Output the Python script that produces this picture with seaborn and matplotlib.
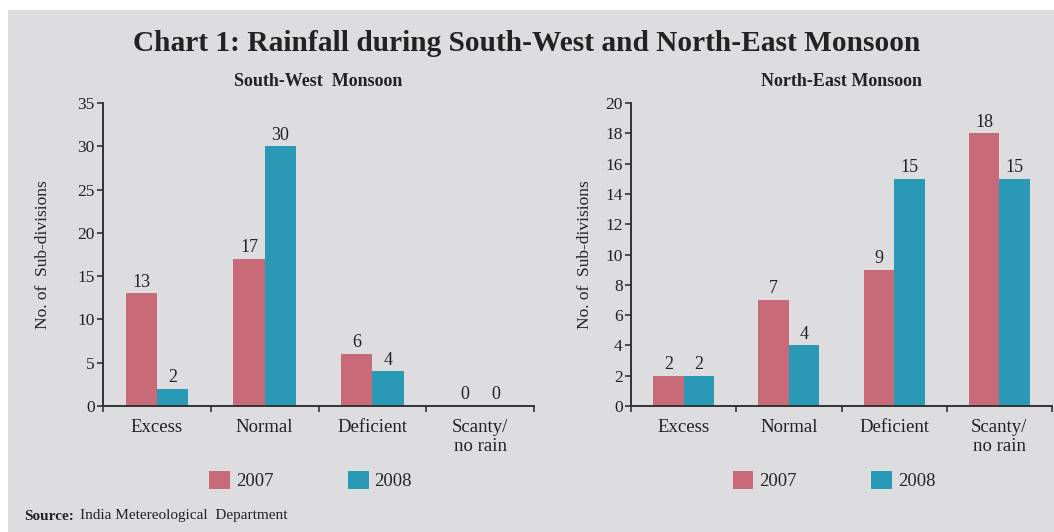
import pandas as pd
import numpy as np
import matplotlib
matplotlib.use("Agg")
import matplotlib.pyplot as plt
import seaborn as sns
from matplotlib.patches import Rectangle, Patch
from matplotlib.ticker import FixedLocator

# Data
categories = ["Excess", "Normal", "Deficient", "Scanty/\nno rain"]
years = ["2007", "2008"]
sw_2007 = [13, 17, 6, 0]
sw_2008 = [2, 30, 4, 0]
ne_2007 = [2, 7, 9, 18]
ne_2008 = [2, 4, 15, 15]

colors = {"2007": "#c96a78", "2008": "#2a99b5"}
bg = "#dddde0"
serif = ["Liberation Serif", "DejaVu Serif"]

sns.set_theme(style="ticks")
plt.rcParams["font.family"] = serif


def make_frame(v07, v08):
    return pd.DataFrame({
        "category": categories * 2,
        "year": ["2007"] * len(categories) + ["2008"] * len(categories),
        "value": v07 + v08,
    })


fig = plt.figure(figsize=(10.54, 5.32), dpi=100, facecolor="white")
fig.patches.append(Rectangle((8 / 1054, 0), 1 - 8 / 1054, 1 - 10 / 532,
                             transform=fig.transFigure, facecolor=bg,
                             edgecolor="none", zorder=-10))

ax1 = fig.add_axes([103 / 1054, 0.2368, 431 / 1054, 0.5696])
ax2 = fig.add_axes([631 / 1054, 0.2368, 421 / 1054, 0.5696])

panels = [
    (ax1, make_frame(sw_2007, sw_2008), 35, 5, "South-West  Monsoon", 19),
    (ax2, make_frame(ne_2007, ne_2008), 20, 2, "North-East Monsoon", 9),
]

for ax, df, ymax, step, title, lpad in panels:
    sns.barplot(data=df, x="category", y="value", hue="year", palette=colors,
                width=0.58, gap=0, ax=ax, legend=False, saturation=1,
                edgecolor="none")
    for cont in ax.containers:
        ax.bar_label(cont, fontsize=13, padding=2, color="#222222")
    ax.set_facecolor("none")
    ax.set_xlim(-0.5, 3.5)
    ax.set_ylim(0, ymax)
    ax.set_yticks(np.arange(0, ymax + 1, step))
    ax.xaxis.set_minor_locator(FixedLocator([-0.5, 0.5, 1.5, 2.5, 3.5]))
    ax.tick_params(axis="x", which="major", length=0, pad=9, labelsize=13.5,
                   colors="#222222")
    ax.tick_params(axis="x", which="minor", length=4, width=1.2,
                   direction="out", color="#333333")
    ax.tick_params(axis="y", length=4, width=1.2, direction="out",
                   labelsize=12.5, colors="#222222", color="#333333", pad=2)
    ax.set_xlabel("")
    ax.set_ylabel("No. of  Sub-divisions", fontsize=12.5, color="#222222",
                  labelpad=lpad)
    for s in ["top", "right"]:
        ax.spines[s].set_visible(False)
    for s in ["left", "bottom"]:
        ax.spines[s].set_linewidth(1.4)
        ax.spines[s].set_color("#333333")
    ax.set_title(title, fontsize=13, fontweight="bold", pad=12,
                 color="#222222")
    ax.legend(handles=[Patch(facecolor=colors[y], edgecolor="none", label=y)
                       for y in years],
              loc="center", bbox_to_anchor=(0.482, -0.245), ncol=2,
              frameon=False, fontsize=13.5, handlelength=1.1,
              handleheight=1.1, columnspacing=4.0, handletextpad=0.3)

fig.text(0.5, 0.918, "Chart 1: Rainfall during South-West and North-East Monsoon",
         ha="center", va="center", fontsize=21.2, fontweight="bold",
         color="#222222")
fig.text(24 / 1054, 16 / 532, "Source:", fontsize=11, va="center",
         fontweight="bold", color="#222222")
fig.text(80 / 1054, 16 / 532, "India Metereological  Department",
         fontsize=11, va="center", color="#222222")

fig.savefig("out.png", dpi=100, facecolor="white")
